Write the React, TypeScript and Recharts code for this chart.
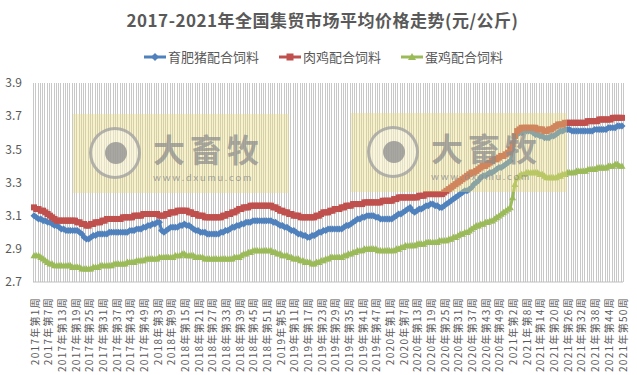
import { LineChart, Line, XAxis, YAxis, CartesianGrid } from 'recharts';

// weekly prices, yuan/kg, one array per year (2017..2021)
const YEARS = [2017, 2018, 2019, 2020, 2021];

// 育肥猪配合饲料
const pig2017 = [3.10,3.09,3.08,3.08,3.07,3.07,3.06,3.06,3.05,3.04,3.04,3.03,3.02,3.02,3.01,3.01,3.01,3.01,3.01,3.01,3.00,2.99,2.97,2.96,2.96,2.97,2.98,2.98,2.99,2.99,2.99,2.99,2.99,3.00,3.00,3.00,3.00,3.00,3.00,3.00,3.00,3.00,3.01,3.01,3.01,3.02,3.02,3.02,3.03,3.03,3.04,3.04];
const pig2018 = [3.05,3.05,3.06,3.06,3.01,3.00,3.01,3.02,3.03,3.03,3.03,3.03,3.04,3.04,3.05,3.04,3.04,3.03,3.02,3.01,3.01,3.00,3.00,3.00,2.99,2.99,2.99,2.99,2.99,2.99,3.00,3.00,3.01,3.01,3.02,3.03,3.03,3.04,3.04,3.05,3.05,3.06,3.06,3.06,3.07,3.07,3.07,3.07,3.07,3.07,3.07,3.07];
const pig2019 = [3.07,3.06,3.06,3.05,3.04,3.04,3.03,3.03,3.02,3.01,3.01,3.00,2.99,2.99,2.98,2.98,2.97,2.97,2.98,2.98,2.99,3.00,3.00,3.01,3.01,3.02,3.02,3.02,3.02,3.02,3.02,3.02,3.03,3.04,3.04,3.05,3.06,3.07,3.08,3.08,3.09,3.09,3.10,3.10,3.10,3.10,3.09,3.09,3.08,3.08,3.08,3.08];
const pig2020 = [3.08,3.08,3.09,3.10,3.11,3.11,3.12,3.13,3.14,3.15,3.13,3.12,3.13,3.14,3.14,3.15,3.16,3.16,3.17,3.17,3.16,3.16,3.15,3.15,3.16,3.17,3.18,3.19,3.20,3.21,3.22,3.23,3.24,3.25,3.25,3.26,3.27,3.29,3.30,3.31,3.33,3.34,3.34,3.35,3.36,3.36,3.37,3.38,3.39,3.39,3.40,3.41,3.42];
const pig2021 = [3.43,3.50,3.57,3.59,3.60,3.60,3.61,3.61,3.61,3.61,3.60,3.59,3.59,3.58,3.58,3.57,3.57,3.57,3.58,3.58,3.59,3.60,3.61,3.61,3.62,3.62,3.62,3.61,3.61,3.61,3.61,3.61,3.61,3.61,3.61,3.61,3.61,3.62,3.62,3.62,3.62,3.62,3.62,3.63,3.63,3.63,3.63,3.64,3.64,3.64];

// 肉鸡配合饲料
const broiler2017 = [3.15,3.14,3.14,3.13,3.13,3.12,3.11,3.10,3.09,3.08,3.07,3.07,3.07,3.07,3.07,3.07,3.07,3.07,3.07,3.06,3.06,3.05,3.05,3.04,3.04,3.05,3.05,3.06,3.06,3.06,3.07,3.07,3.08,3.08,3.08,3.08,3.08,3.08,3.08,3.09,3.09,3.09,3.09,3.09,3.10,3.10,3.10,3.10,3.11,3.11,3.11,3.11];
const broiler2018 = [3.11,3.11,3.11,3.10,3.10,3.10,3.11,3.11,3.12,3.12,3.12,3.13,3.13,3.13,3.13,3.13,3.12,3.12,3.11,3.11,3.10,3.10,3.10,3.09,3.09,3.09,3.09,3.09,3.09,3.09,3.09,3.10,3.10,3.11,3.11,3.12,3.12,3.13,3.14,3.14,3.15,3.15,3.15,3.16,3.16,3.16,3.16,3.16,3.16,3.16,3.16,3.16];
const broiler2019 = [3.16,3.15,3.15,3.14,3.13,3.13,3.12,3.12,3.11,3.11,3.10,3.10,3.10,3.09,3.09,3.09,3.09,3.09,3.09,3.09,3.10,3.10,3.11,3.12,3.12,3.12,3.13,3.13,3.14,3.14,3.14,3.15,3.15,3.16,3.16,3.16,3.17,3.17,3.17,3.17,3.17,3.18,3.18,3.18,3.18,3.18,3.18,3.18,3.18,3.19,3.19,3.19];
const broiler2020 = [3.19,3.19,3.20,3.20,3.21,3.21,3.21,3.21,3.21,3.21,3.21,3.21,3.21,3.22,3.22,3.22,3.23,3.23,3.23,3.23,3.23,3.23,3.23,3.23,3.24,3.25,3.26,3.27,3.28,3.29,3.30,3.31,3.32,3.33,3.34,3.35,3.36,3.36,3.37,3.38,3.39,3.40,3.40,3.41,3.42,3.43,3.44,3.44,3.45,3.46,3.46,3.47,3.48];
const broiler2021 = [3.50,3.53,3.58,3.61,3.62,3.63,3.63,3.63,3.63,3.63,3.63,3.63,3.62,3.62,3.62,3.61,3.61,3.62,3.62,3.63,3.64,3.65,3.65,3.65,3.66,3.66,3.66,3.66,3.66,3.66,3.66,3.66,3.66,3.66,3.67,3.67,3.67,3.67,3.67,3.68,3.68,3.68,3.68,3.68,3.68,3.69,3.69,3.69,3.69,3.69];

// 蛋鸡配合饲料
const layer2017 = [2.86,2.86,2.86,2.85,2.84,2.83,2.82,2.81,2.81,2.80,2.80,2.80,2.80,2.80,2.80,2.80,2.80,2.79,2.79,2.79,2.79,2.78,2.78,2.78,2.78,2.78,2.79,2.79,2.79,2.80,2.80,2.80,2.80,2.80,2.80,2.81,2.81,2.81,2.81,2.81,2.81,2.82,2.82,2.82,2.82,2.83,2.83,2.83,2.83,2.84,2.84,2.84];
const layer2018 = [2.84,2.84,2.84,2.85,2.85,2.85,2.85,2.85,2.85,2.85,2.86,2.86,2.86,2.87,2.87,2.86,2.86,2.86,2.86,2.85,2.85,2.85,2.85,2.84,2.84,2.84,2.84,2.84,2.84,2.84,2.84,2.84,2.84,2.84,2.84,2.84,2.85,2.85,2.85,2.86,2.87,2.87,2.88,2.88,2.89,2.89,2.89,2.89,2.89,2.89,2.89,2.89];
const layer2019 = [2.89,2.88,2.88,2.87,2.87,2.86,2.86,2.86,2.85,2.85,2.84,2.84,2.84,2.83,2.83,2.82,2.82,2.82,2.81,2.81,2.82,2.82,2.83,2.83,2.84,2.84,2.85,2.85,2.85,2.85,2.85,2.85,2.86,2.86,2.87,2.87,2.88,2.88,2.89,2.89,2.89,2.90,2.90,2.90,2.90,2.90,2.90,2.89,2.89,2.89,2.89,2.89];
const layer2020 = [2.89,2.89,2.89,2.90,2.90,2.91,2.91,2.92,2.92,2.92,2.92,2.92,2.93,2.93,2.93,2.93,2.94,2.94,2.94,2.94,2.94,2.94,2.95,2.95,2.95,2.95,2.96,2.96,2.97,2.97,2.98,2.99,2.99,3.00,3.00,3.01,3.02,3.03,3.04,3.04,3.05,3.05,3.06,3.06,3.07,3.07,3.08,3.09,3.10,3.11,3.12,3.13,3.14];
const layer2021 = [3.15,3.21,3.29,3.33,3.34,3.35,3.35,3.36,3.36,3.36,3.36,3.36,3.36,3.35,3.35,3.34,3.33,3.33,3.33,3.33,3.33,3.34,3.34,3.35,3.35,3.36,3.36,3.36,3.36,3.37,3.37,3.37,3.37,3.37,3.38,3.38,3.38,3.38,3.39,3.39,3.39,3.39,3.39,3.40,3.40,3.40,3.41,3.41,3.40,3.40];

const PIG_BY_YEAR = [pig2017, pig2018, pig2019, pig2020, pig2021];
const BROILER_BY_YEAR = [broiler2017, broiler2018, broiler2019, broiler2020, broiler2021];
const LAYER_BY_YEAR = [layer2017, layer2018, layer2019, layer2020, layer2021];

const Y_TICKS = [2.7, 2.9, 3.1, 3.3, 3.5, 3.7, 3.9];

const PIG_COLOR = '#4F81BD';
const BROILER_COLOR = '#C0504D';
const LAYER_COLOR = '#9BBB59';
const TEXT_COLOR = '#595959';
const FONT = '"Noto Sans CJK SC", "Noto Sans", sans-serif';

const data: { week: string; pig: number; broiler: number; layer: number }[] = [];
YEARS.forEach((year, y) => {
  PIG_BY_YEAR[y].forEach((v, w) => {
    data.push({
      week: `${year}年第${w + 1}周`,
      pig: v,
      broiler: BROILER_BY_YEAR[y][w],
      layer: LAYER_BY_YEAR[y][w],
    });
  });
});

const diamondDot = (props: any) => {
  const { cx, cy, index } = props;
  if (cx == null || cy == null) return <g key={`pd${index}`} />;
  const r = 3.5;
  return (
    <polygon
      key={`pd${index}`}
      points={`${cx},${cy - r} ${cx + r},${cy} ${cx},${cy + r} ${cx - r},${cy}`}
      fill={PIG_COLOR}
    />
  );
};

const squareDot = (props: any) => {
  const { cx, cy, index } = props;
  if (cx == null || cy == null) return <g key={`bd${index}`} />;
  return <rect key={`bd${index}`} x={cx - 3} y={cy - 3} width={6} height={6} fill={BROILER_COLOR} />;
};

const triangleDot = (props: any) => {
  const { cx, cy, index } = props;
  if (cx == null || cy == null) return <g key={`ld${index}`} />;
  const r = 3.5;
  return (
    <polygon
      key={`ld${index}`}
      points={`${cx},${cy - r} ${cx + r},${cy + r * 0.8} ${cx - r},${cy + r * 0.8}`}
      fill={LAYER_COLOR}
    />
  );
};

const WeekTick = (props: any) => {
  const { x, y, payload } = props;
  const ty = y + 7;
  return (
    <text
      x={x}
      y={ty}
      transform={`rotate(-90 ${x} ${ty})`}
      textAnchor="end"
      dominantBaseline="central"
      fontSize={10}
      letterSpacing={1.3}
      fill={TEXT_COLOR}
      fontFamily={FONT}
    >
      {payload.value}
    </text>
  );
};

// one grid column per week, snapped to whole pixels like the original
const gridColumns = ({ offset }: any) => {
  const n = data.length;
  const bw = offset.width / n;
  return Array.from({ length: n + 1 }, (_, k) => Math.round(offset.left + k * bw) + 0.5);
};

const LegendItem = ({ color, label, marker }: { color: string; label: string; marker: string }) => (
  <div style={{ display: 'flex', alignItems: 'center', marginRight: 20 }}>
    <svg width={22} height={10} style={{ marginRight: 2 }}>
      <line x1={0} y1={5} x2={22} y2={5} stroke={color} strokeWidth={3} />
      {marker === 'diamond' && <polygon points="11,1 15,5 11,9 7,5" fill={color} />}
      {marker === 'square' && <rect x={7.5} y={1.5} width={7} height={7} fill={color} />}
      {marker === 'triangle' && <polygon points="11,1 15,8 7,8" fill={color} />}
    </svg>
    <span>{label}</span>
  </div>
);

const Watermark = ({ left, top }: { left: number; top: number }) => (
  <div
    style={{
      position: 'absolute',
      left,
      top,
      width: 216,
      height: 79,
      background: 'rgba(235, 220, 120, 0.38)',
      pointerEvents: 'none',
    }}
  >
    <div
      style={{
        position: 'absolute',
        left: 16,
        top: 13,
        width: 46,
        height: 46,
        borderRadius: '50%',
        border: '3px solid rgba(150,150,150,0.7)',
        background: 'rgba(255,255,255,0.35)',
      }}
    >
      <div
        style={{
          position: 'absolute',
          left: 13,
          top: 12,
          width: 22,
          height: 22,
          borderRadius: '50%',
          background: 'rgba(140,140,140,0.75)',
        }}
      />
    </div>
    <div
      style={{
        position: 'absolute',
        left: 80,
        top: 11,
        fontSize: 32,
        fontWeight: 700,
        lineHeight: '46px',
        color: 'rgba(140,140,140,0.72)',
        fontFamily: FONT,
        letterSpacing: 5,
      }}
    >
      大畜牧
    </div>
    <div
      style={{
        position: 'absolute',
        left: 80,
        top: 57,
        fontSize: 10,
        lineHeight: '12px',
        color: 'rgba(140,140,140,0.8)',
        fontFamily: 'Lato, sans-serif',
        letterSpacing: 1.8,
      }}
    >
      www.dxumu.com
    </div>
  </div>
);

export default function App() {
  return (
    <div
      style={{
        position: 'absolute',
        left: 0,
        top: 0,
        width: 637,
        height: 375,
        background: '#fff',
        fontFamily: FONT,
        color: TEXT_COLOR,
      }}
    >
      <div
        style={{
          position: 'absolute',
          left: 0,
          top: 7,
          width: 645,
          textAlign: 'center',
          fontSize: 17,
          fontWeight: 700,
          letterSpacing: 0.5,
          lineHeight: '26px',
        }}
      >
        2017-2021年全国集贸市场平均价格走势(元/公斤)
      </div>
      <div
        style={{
          position: 'absolute',
          left: 144,
          top: 48,
          display: 'flex',
          fontSize: 13,
          lineHeight: '18px',
        }}
      >
        <LegendItem color={PIG_COLOR} label="育肥猪配合饲料" marker="diamond" />
        <LegendItem color={BROILER_COLOR} label="肉鸡配合饲料" marker="square" />
        <LegendItem color={LAYER_COLOR} label="蛋鸡配合饲料" marker="triangle" />
      </div>
      <LineChart
        width={637}
        height={375}
        data={data}
        margin={{ top: 83, right: 14, bottom: 0, left: 0 }}
      >
        <CartesianGrid
          horizontal={false}
          stroke="#C8C8C8"
          verticalCoordinatesGenerator={gridColumns}
        />
        <XAxis
          dataKey="week"
          interval={5}
          height={93}
          tick={<WeekTick />}
          tickLine={false}
          axisLine={{ stroke: '#BFBFBF' }}
          padding={{ left: 1, right: 1 }}
        />
        <YAxis
          width={33}
          domain={[2.7, 3.9]}
          ticks={Y_TICKS}
          tickFormatter={(v: number) => v.toFixed(1)}
          tick={{ fontSize: 12, fill: TEXT_COLOR, fontFamily: FONT }}
          tickLine={false}
          axisLine={false}
          tickSize={0}
          tickMargin={11}
        />
        <Line
          dataKey="pig"
          stroke={PIG_COLOR}
          strokeWidth={3}
          dot={diamondDot}
          isAnimationActive={false}
        />
        <Line
          dataKey="broiler"
          stroke={BROILER_COLOR}
          strokeWidth={3}
          dot={squareDot}
          isAnimationActive={false}
        />
        <Line
          dataKey="layer"
          stroke={LAYER_COLOR}
          strokeWidth={3}
          dot={triangleDot}
          isAnimationActive={false}
        />
      </LineChart>
      <Watermark left={73} top={114} />
      <Watermark left={351} top={113} />
    </div>
  );
}
